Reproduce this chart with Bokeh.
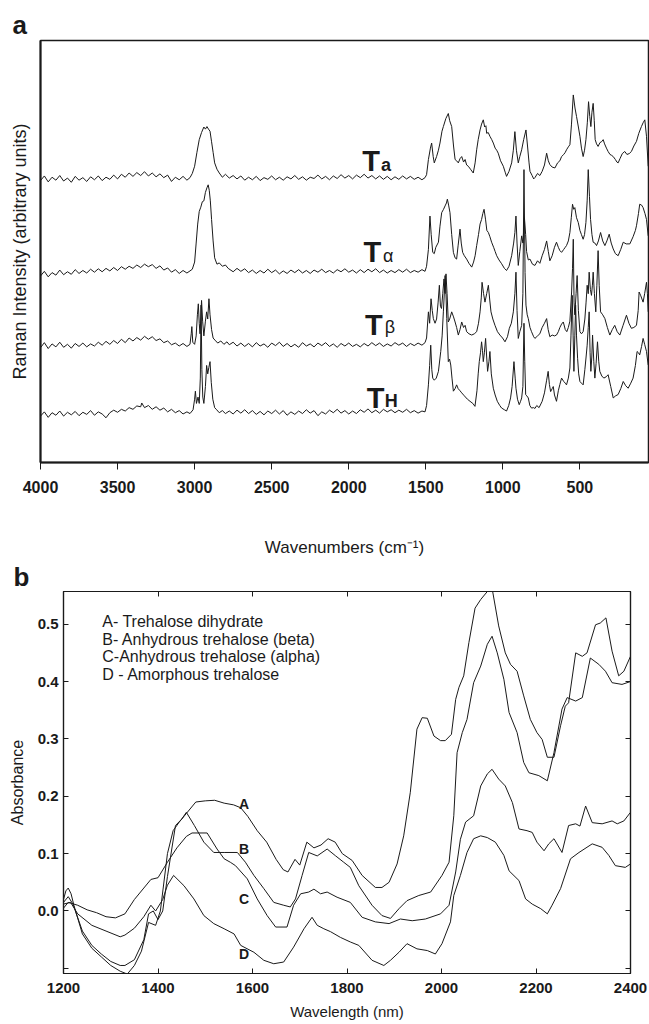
import numpy as np
from bokeh.plotting import figure
from bokeh.models import Range1d, LinearAxis, FixedTicker, CustomJSTickFormatter
from bokeh.embed import file_html
from bokeh.resources import INLINE
from bokeh.core.properties import value

FONT = "Liberation Sans"

# ---------------- Panel a : Raman spectra (wavenumber, intensity a.u.) ----------------
T_a = [(4000,66.8),(3975,67.9),(3950,66.5),(3925,67.6),(3900,66.9),(3875,68.0),(3850,66.7),(3825,67.4),(3800,66.4),(3775,67.8),
 (3750,66.9),(3725,67.5),(3700,66.6),(3675,67.7),(3650,67.0),(3625,67.9),(3600,66.8),(3575,67.6),(3550,67.1),(3525,68.1),
 (3500,67.2),(3475,68.3),(3450,67.6),(3425,68.6),(3400,67.8),(3375,68.7),(3350,68.0),(3325,68.9),(3300,67.9),(3275,68.6),
 (3250,67.7),(3225,68.4),(3200,67.5),(3175,68.1),(3150,66.6),(3125,67.6),(3100,67.0),(3075,67.8),(3050,66.9),
 (3030,67.5),(3015,68.5),(3000,70.2),(2985,73.5),(2970,76.5),(2955,78.2),(2940,79.5),(2930,79.0),(2920,79.6),(2910,79.0),
 (2900,78.5),(2890,76.0),(2880,73.5),(2870,71.0),(2855,69.5),(2840,68.6),(2820,67.6),(2800,68.3),
 (2775,67.4),(2750,68.0),(2725,67.2),(2700,67.9),(2675,66.9),(2650,67.6),(2625,67.0),(2600,67.8),(2575,66.8),(2550,67.5),
 (2525,67.1),(2500,67.9),(2475,67.0),(2450,67.6),(2425,66.9),(2400,67.7),(2375,67.2),(2350,68.0),(2325,67.1),(2300,67.7),
 (2275,66.9),(2250,67.6),(2225,67.3),(2200,68.1),(2175,67.2),(2150,67.8),(2125,67.0),(2100,67.9),(2075,67.3),(2050,68.2),
 (2025,67.4),(2000,68.0),(1975,67.2),(1950,68.1),(1925,67.5),(1900,68.3),(1875,67.4),(1850,68.0),(1825,67.2),(1800,67.9),
 (1775,67.1),(1750,67.8),(1725,67.0),(1700,67.7),(1675,67.1),(1650,67.9),(1625,67.2),(1600,67.8),(1575,67.1),(1550,67.6),
 (1525,67.0),(1505,67.5),(1495,68.2),(1483,71.8),(1470,74.5),(1462,75.7),(1452,72.5),(1445,71.0),(1430,72.5),(1418,74.0),
 (1408,75.7),(1395,78.5),(1386,79.6),(1370,81.5),(1354,82.7),(1345,81.0),(1332,79.6),(1320,75.0),(1310,71.8),(1300,71.5),
 (1289,71.0),(1278,72.0),(1267,72.5),(1255,71.2),(1245,71.8),(1235,70.5),(1224,70.2),(1210,69.5),(1192,68.6),(1180,71.0),
 (1170,74.1),(1160,76.5),(1148,78.8),(1138,80.2),(1127,81.2),(1118,79.5),(1110,79.8),(1105,78.0),(1095,78.2),(1084,77.3),
 (1072,76.5),(1062,75.7),(1050,74.5),(1040,74.0),(1030,73.3),(1015,71.5),(997,70.2),(985,68.8),(976,67.8),(960,69.0),
 (943,71.0),(932,74.0),(922,78.4),(912,74.0),(900,71.0),(890,72.5),(878,74.1),(865,76.5),(850,78.8),(840,75.0),
 (830,71.0),(824,69.0),(810,68.0),(800,67.2),(792,67.5),(775,68.5),(760,68.0),(745,69.0),(730,70.5),(716,73.3),
 (705,71.5),(695,70.6),(680,70.0),(662,69.8),(645,71.0),(630,71.5),(619,72.5),(605,73.0),(595,73.5),(587,74.1),
 (575,74.8),(565,75.3),(555,80.0),(543,87.1),(532,84.0),(522,82.0),(510,79.5),(500,77.3),(490,74.5),(479,72.5),
 (470,74.0),(461,76.5),(452,80.5),(444,85.5),(436,82.0),(429,79.6),(422,83.0),(414,85.1),(407,81.0),(401,76.5),
 (392,75.5),(382,74.9),(370,75.8),(360,76.0),(349,76.5),(340,75.5),(328,74.5),(317,73.7),(305,73.0),(295,72.8),
 (284,72.5),(270,71.8),(260,71.2),(252,71.0),(240,72.0),(225,73.2),(209,73.7),(195,73.0),(180,73.2),(166,73.7),
 (150,75.0),(133,76.1),(118,78.0),(101,79.6),(90,80.5),(79,81.2),(68,77.3),(57,70.2)]

T_alpha = [(4000,44.2),(3975,45.3),(3950,44.0),(3925,45.0),(3900,44.4),(3875,45.6),(3850,44.5),(3825,45.2),(3800,44.6),(3775,45.7),
 (3750,44.8),(3725,45.5),(3700,44.9),(3675,45.8),(3650,45.1),(3625,45.9),(3600,45.2),(3575,46.0),(3550,45.4),(3525,46.2),
 (3500,45.5),(3475,46.4),(3450,45.8),(3425,46.5),(3400,46.0),(3375,46.8),(3350,46.2),(3325,47.0),(3300,46.4),(3275,46.9),
 (3250,46.0),(3225,46.6),(3200,45.6),(3175,46.1),(3150,45.1),(3125,45.7),(3100,44.8),(3075,45.5),(3050,44.9),
 (3030,45.4),(3015,45.8),(3000,47.5),(2990,52.0),(2980,56.5),(2970,59.5),(2960,60.5),(2950,61.8),(2940,62.0),(2930,64.0),
 (2920,65.1),(2912,65.8),(2905,64.5),(2898,62.0),(2890,57.6),(2880,52.5),(2870,48.5),(2855,47.0),(2840,47.3),(2820,46.5),
 (2800,46.8),(2782,46.0),(2750,45.2),(2725,46.0),(2700,45.3),(2675,45.9),(2650,45.0),(2625,45.6),(2600,44.8),(2575,45.5),
 (2550,44.9),(2525,45.8),(2500,45.0),(2475,45.6),(2450,44.7),(2425,45.4),(2400,44.8),(2375,45.6),(2350,45.0),(2325,45.7),
 (2300,44.9),(2275,45.5),(2250,44.8),(2225,45.6),(2200,45.1),(2175,45.8),(2150,45.0),(2125,45.5),(2100,44.9),(2075,45.7),
 (2050,45.2),(2025,45.9),(2000,45.1),(1975,45.6),(1950,44.9),(1925,45.7),(1900,45.0),(1875,45.8),(1850,45.2),(1825,45.9),
 (1800,45.0),(1775,45.6),(1750,44.9),(1725,45.5),(1700,45.0),(1675,45.7),(1650,45.1),(1625,45.8),(1600,45.0),(1575,45.5),
 (1550,45.1),(1525,45.7),(1505,45.3),(1495,46.5),(1483,50.5),(1473,58.4),(1465,54.0),(1455,49.8),(1445,49.5),(1435,51.0),
 (1418,52.2),(1408,56.0),(1397,59.2),(1385,60.0),(1375,60.8),(1366,61.5),(1360,62.4),(1352,61.0),(1343,59.2),(1332,54.0),
 (1321,49.8),(1310,48.5),(1300,48.2),(1290,51.5),(1278,55.3),(1270,52.0),(1261,49.8),(1250,49.0),(1235,48.2),(1220,47.2),
 (1202,46.3),(1190,47.5),(1180,49.0),(1170,51.4),(1158,54.0),(1148,56.5),(1138,57.6),(1130,59.0),(1122,60.0),(1112,57.5),
 (1104,55.0),(1094,54.5),(1084,53.5),(1073,52.2),(1060,51.0),(1050,50.0),(1040,49.0),(1025,48.0),(1008,47.1),(990,46.0),
 (976,45.5),(960,46.5),(943,49.0),(930,52.0),(922,54.5),(915,58.4),(908,52.0),(900,46.7),(890,50.0),(878,53.7),
 (870,52.0),(860,58.0),(852,54.0),(846,50.0),(835,48.0),(824,48.2),(808,47.0),(792,46.7),(775,47.8),(760,47.2),
 (745,49.0),(730,50.5),(716,52.5),(705,50.0),(695,47.8),(680,49.0),(665,51.0),(652,52.2),(640,51.0),(630,50.2),
 (619,49.8),(605,50.5),(595,51.0),(587,51.4),(575,52.5),(565,54.5),(556,58.0),(548,61.2),(540,60.0),(533,60.4),
 (522,58.0),(511,56.9),(500,55.0),(490,54.0),(479,52.9),(470,54.0),(461,56.9),(453,62.0),(446,69.4),(438,63.0),
 (431,57.6),(422,54.0),(414,52.2),(403,52.0),(392,51.4),(380,52.5),(366,54.5),(352,52.5),(338,51.4),(325,52.5),
 (310,54.1),(297,52.0),(284,50.6),(270,49.5),(252,49.0),(235,50.5),(219,52.2),(200,51.8),(176,51.8),(155,53.5),
 (140,55.0),(133,56.1),(120,59.0),(112,61.2),(100,61.0),(90,60.4),(78,59.0),(68,57.6),(57,53.7)]

T_beta = [(4000,27.2),(3975,28.4),(3950,27.0),(3925,28.1),(3900,27.4),(3875,28.5),(3850,27.3),(3825,28.0),(3800,27.1),(3775,28.2),
 (3750,27.5),(3725,28.3),(3700,27.4),(3675,28.1),(3650,27.6),(3625,28.5),(3600,27.8),(3575,28.7),(3550,28.0),(3525,28.9),
 (3500,28.2),(3475,29.2),(3450,28.4),(3425,29.5),(3400,28.8),(3375,29.6),(3350,29.0),(3325,29.9),(3300,29.2),(3275,29.8),
 (3250,28.9),(3225,29.3),(3200,28.4),(3175,28.8),(3150,27.9),(3125,28.3),(3100,27.6),(3075,28.2),(3050,27.5),
 (3030,28.0),(3022,30.5),(3018,32.2),(3012,28.5),(3000,28.0),(2990,30.0),(2982,35.0),(2976,37.6),(2970,33.0),(2965,30.5),
 (2960,34.0),(2955,38.4),(2948,33.5),(2940,30.0),(2930,33.5),(2922,35.7),(2915,34.0),(2907,38.8),(2900,35.0),(2890,31.5),
 (2880,29.5),(2868,29.0),(2850,28.3),(2830,28.8),(2810,28.0),(2790,28.6),(2775,27.9),(2750,28.5),(2725,27.6),(2700,28.3),
 (2675,27.5),(2650,28.2),(2625,27.4),(2600,28.4),(2575,27.6),(2550,28.1),(2525,27.3),(2500,28.3),(2475,27.7),(2450,28.5),
 (2425,27.5),(2400,28.2),(2375,27.4),(2350,28.0),(2325,27.3),(2300,28.4),(2275,27.6),(2250,28.1),(2225,27.4),(2200,28.3),
 (2175,27.7),(2150,28.4),(2125,27.5),(2100,28.1),(2075,27.3),(2050,28.2),(2025,27.6),(2000,28.3),(1975,27.5),(1950,28.0),
 (1925,27.4),(1900,28.2),(1875,27.6),(1850,28.4),(1825,27.7),(1800,28.3),(1775,27.5),(1750,28.1),(1725,27.6),(1700,28.4),
 (1675,27.8),(1650,28.3),(1625,27.5),(1600,28.2),(1575,27.7),(1550,28.3),(1525,27.8),(1505,28.4),(1495,29.5),(1483,35.7),
 (1475,33.0),(1466,38.8),(1458,36.0),(1451,34.1),(1440,33.0),(1430,34.0),(1420,38.0),(1412,42.0),(1405,37.0),(1398,36.5),
 (1390,40.0),(1382,43.5),(1375,40.0),(1369,44.7),(1362,40.0),(1354,33.3),(1345,34.0),(1332,35.7),(1320,34.5),(1310,33.3),
 (1300,32.0),(1289,30.2),(1278,31.5),(1267,33.3),(1255,32.0),(1245,32.5),(1235,31.0),(1220,30.5),(1202,30.2),(1185,30.5),
 (1170,31.0),(1158,33.0),(1148,35.7),(1140,39.0),(1135,42.7),(1125,40.0),(1116,38.0),(1105,40.0),(1094,42.0),(1085,38.5),
 (1077,35.7),(1065,34.0),(1051,32.5),(1035,31.0),(1019,30.2),(1002,29.5),(986,28.6),(970,29.8),(958,31.8),(945,33.0),
 (932,35.7),(922,40.0),(915,45.1),(908,36.0),(900,29.4),(890,31.0),(878,32.5),(870,40.0),(863,69.4),(856,45.0),
 (850,37.3),(842,35.0),(835,34.1),(824,32.0),(814,31.0),(800,29.8),(792,29.4),(775,30.0),(760,30.5),(745,32.0),
 (730,33.0),(716,34.1),(706,31.5),(695,29.8),(680,30.2),(665,30.0),(652,30.2),(640,31.0),(630,32.0),(619,32.8),
 (608,33.3),(595,31.5),(585,31.0),(575,32.0),(565,33.5),(554,40.4),(548,46.0),(543,52.9),(538,38.0),(533,35.0),
 (525,40.0),(518,44.3),(510,36.0),(500,31.0),(490,30.5),(479,31.0),(468,34.0),(460,38.0),(453,42.0),(446,40.0),
 (440,45.1),(432,41.0),(425,39.6),(419,42.0),(414,45.1),(406,40.0),(397,35.7),(390,42.0),(382,50.2),(375,42.0),
 (366,35.7),(352,35.0),(338,34.1),(322,32.0),(306,30.2),(290,31.5),(274,32.5),(258,31.0),(241,30.2),(220,32.5),
 (198,34.9),(182,33.0),(166,31.8),(150,32.0),(133,32.5),(122,36.0),(116,40.4),(105,39.5),(90,38.0),(80,40.0),
 (68,42.7),(62,40.0),(57,35.7)]

T_H = [(4000,11.0),(3975,12.0),(3950,10.7),(3925,11.8),(3900,11.2),(3875,12.2),(3850,11.0),(3825,11.9),(3800,11.3),(3775,12.1),
 (3750,11.1),(3725,11.9),(3700,11.4),(3675,12.3),(3650,11.2),(3625,12.0),(3600,11.5),(3575,10.6),(3550,11.8),(3525,12.4),
 (3500,11.9),(3475,12.6),(3450,12.2),(3425,13.0),(3400,12.6),(3375,13.4),(3350,13.2),(3343,14.1),(3325,13.0),(3300,13.5),
 (3275,12.6),(3250,13.2),(3225,12.4),(3200,12.9),(3175,12.0),(3150,12.6),(3125,11.8),(3100,12.3),(3075,11.5),(3050,12.0),
 (3030,11.6),(3010,12.5),(3000,15.0),(2995,16.9),(2988,14.0),(2978,15.5),(2970,14.0),(2963,20.0),(2958,37.3),(2953,22.0),
 (2947,15.5),(2940,14.0),(2930,18.0),(2922,23.0),(2915,21.0),(2908,22.5),(2900,23.9),(2892,19.0),(2882,15.0),(2870,13.0),
 (2857,12.5),(2840,11.8),(2820,12.3),(2800,11.6),(2775,12.2),(2750,11.5),(2725,12.4),(2700,11.7),(2675,12.5),(2650,11.6),
 (2625,12.3),(2600,11.4),(2575,12.1),(2550,11.3),(2525,12.2),(2500,11.6),(2475,12.4),(2450,11.5),(2425,12.3),(2400,11.2),
 (2375,12.0),(2350,11.4),(2325,12.2),(2300,11.6),(2275,12.5),(2250,11.7),(2225,12.3),(2200,11.1),(2175,12.0),(2150,11.5),
 (2125,12.4),(2100,11.8),(2075,12.6),(2050,11.7),(2025,12.3),(2000,11.5),(1975,12.2),(1950,11.6),(1925,12.5),(1900,11.9),
 (1875,12.7),(1850,11.8),(1825,12.4),(1800,11.7),(1775,12.6),(1750,12.0),(1725,12.5),(1700,11.8),(1675,12.4),(1650,11.9),
 (1625,12.6),(1600,11.8),(1575,12.3),(1550,11.7),(1525,12.2),(1505,12.0),(1495,13.5),(1483,18.4),(1475,23.0),(1468,27.8),
 (1461,22.0),(1455,20.0),(1445,19.5),(1432,20.0),(1418,21.6),(1403,26.3),(1394,30.0),(1386,35.7),(1380,40.0),(1375,44.3),
 (1369,40.0),(1364,34.1),(1354,23.9),(1346,24.5),(1338,23.1),(1330,20.0),(1321,16.9),(1310,17.5),(1300,18.4),(1290,17.5),
 (1278,17.0),(1267,16.5),(1250,15.8),(1230,15.0),(1213,14.5),(1195,14.0),(1181,13.3),(1168,17.0),(1160,21.0),(1153,23.9),
 (1145,26.0),(1138,28.6),(1132,26.5),(1127,23.9),(1120,26.0),(1112,29.4),(1105,25.0),(1099,21.6),(1090,24.0),(1084,26.3),
 (1075,21.0),(1062,17.6),(1050,16.0),(1036,14.5),(1020,13.5),(1008,12.9),(990,12.5),(976,12.2),(962,13.5),(950,15.3),
 (940,18.0),(928,23.9),(920,20.0),(915,17.6),(905,15.0),(894,13.7),(885,14.5),(878,15.3),(870,18.0),(863,33.0),
 (858,24.0),(852,16.1),(845,15.8),(835,15.3),(825,13.5),(814,12.9),(800,13.0),(792,12.8),(780,13.5),(765,13.0),
 (745,14.5),(730,16.5),(716,19.5),(706,21.6),(698,18.5),(690,16.8),(680,17.5),(673,18.0),(665,16.0),(652,14.5),
 (640,17.0),(630,18.5),(619,20.0),(605,19.2),(595,18.8),(587,18.4),(575,20.0),(565,22.4),(558,30.0),(550,39.6),
 (544,30.0),(539,21.6),(533,30.0),(528,37.3),(522,30.0),(515,24.7),(508,21.0),(500,19.2),(490,18.8),(479,18.4),
 (468,22.0),(460,25.0),(453,27.8),(446,32.0),(440,35.7),(434,26.0),(429,21.6),(423,25.0),(418,30.2),(410,24.0),
 (403,20.0),(395,23.5),(386,28.6),(378,24.0),(371,21.6),(358,20.5),(345,20.0),(330,20.3),(317,20.8),(300,18.0),
 (284,15.3),(268,15.8),(252,16.1),(235,17.5),(219,19.2),(203,18.2),(187,17.6),(170,18.8),(155,20.0),(140,23.0),
 (129,26.3),(120,26.0),(112,25.5),(100,27.5),(90,29.4),(80,28.0),(68,26.3),(57,23.1)]

RAMAN_TICKS = [4000, 3500, 3000, 2500, 2000, 1500, 1000, 500]
T_MAIN_POS = {"x": [1913, 1905, 1894, 1883], "y": [71.4, 49.8, 32.6, 15.3]}
SUB_BOLD = {"x": [1790, 1766], "y": [70.6, 14.5], "t": ["a", "H"]}
SUB_GREEK = {"x": [1777, 1766], "y": [49.0, 32.2], "t": ["\u03b1", "\u03b2"]}

# ---------------- Panel b : NIR absorbance ----------------
wl_A = [1200,1205,1210,1216,1222,1240,1260,1280,1300,1320,1335,1350,1365,1380,1395,1405,1420,1432,1445,1460,1480,1500,1520,1540,
        1560,1575,1590,1610,1630,1650,1665,1675,1690,1700,1715,1730,1745,1760,1775,1790,1811,1832,1860,1874,1889,1906,1920,1934,
        1948,1959,1970,1984,1998,2008,2021,2030,2037,2047,2058,2071,2083,2097,2107,2121,2135,2146,2160,2174,2188,2202,2213,2224,
        2238,2252,2262,2269,2284,2298,2308,2326,2336,2348,2361,2375,2386,2400]
abs_A = [0.02,0.035,0.04,0.03,0.01,-0.04,-0.065,-0.08,-0.095,-0.105,-0.11,-0.095,-0.07,-0.02,-0.025,0.0,0.1,0.14,0.155,0.17,0.19,
         0.192,0.193,0.188,0.185,0.18,0.165,0.14,0.12,0.09,0.072,0.068,0.09,0.08,0.12,0.11,0.115,0.126,0.12,0.1,0.088,0.062,0.041,
         0.041,0.05,0.082,0.131,0.207,0.317,0.337,0.336,0.305,0.297,0.297,0.308,0.369,0.39,0.41,0.468,0.528,0.543,0.557,0.563,0.497,
         0.45,0.43,0.418,0.375,0.334,0.311,0.299,0.268,0.268,0.323,0.357,0.363,0.45,0.444,0.45,0.499,0.502,0.511,0.453,0.41,0.418,0.444]
wl_B = [1200,1210,1220,1240,1260,1280,1300,1320,1330,1350,1370,1380,1390,1400,1410,1420,1437,1450,1460,1477,1497,1518,1540,1568,
        1585,1603,1624,1645,1666,1680,1691,1705,1719,1737,1758,1776,1793,1807,1825,1853,1874,1892,1910,1927,1952,1977,2001,2016,
        2026,2033,2044,2054,2068,2083,2097,2107,2118,2132,2143,2160,2174,2185,2206,2224,2238,2255,2266,2284,2298,2315,2333,2347,
        2361,2382,2400]
abs_B = [0.015,0.025,0.012,-0.035,-0.06,-0.075,-0.088,-0.095,-0.095,-0.085,-0.05,-0.005,0.0,-0.015,0.0,0.06,0.149,0.16,0.172,0.149,
         0.12,0.102,0.102,0.102,0.085,0.062,0.039,0.015,0.01,0.007,0.021,0.062,0.102,0.096,0.108,0.096,0.085,0.076,0.044,0.01,-0.008,
         -0.013,0.004,0.018,0.027,0.033,0.062,0.085,0.166,0.276,0.311,0.334,0.398,0.427,0.465,0.479,0.45,0.404,0.346,0.311,0.259,0.241,
         0.236,0.227,0.276,0.352,0.372,0.366,0.372,0.441,0.43,0.418,0.398,0.395,0.4]
wl_C = [1200,1210,1230,1250,1270,1290,1310,1330,1350,1370,1385,1400,1420,1440,1460,1472,1504,1525,1540,1553,1564,1589,1610,1631,
        1649,1673,1687,1702,1719,1730,1744,1758,1779,1807,1832,1860,1889,1913,1938,1966,1998,2016,2030,2040,2051,2068,2083,2097,
        2107,2121,2135,2150,2164,2181,2192,2202,2217,2227,2238,2255,2269,2284,2293,2305,2319,2340,2361,2372,2386,2400]
abs_C = [0.005,0.015,0.01,0.002,-0.003,-0.01,-0.012,-0.005,0.02,0.04,0.055,0.058,0.085,0.11,0.13,0.136,0.136,0.108,0.091,0.085,0.079,
         0.056,0.021,-0.008,-0.028,-0.028,0.01,0.03,0.033,0.038,0.03,0.033,0.024,0.015,-0.011,-0.019,-0.022,-0.014,-0.017,-0.014,
         -0.005,0.01,0.068,0.125,0.155,0.166,0.218,0.239,0.247,0.23,0.218,0.189,0.143,0.14,0.137,0.12,0.105,0.117,0.126,0.102,0.149,
         0.152,0.148,0.183,0.154,0.152,0.157,0.152,0.157,0.172]
wl_D = [1200,1215,1230,1260,1290,1320,1330,1350,1370,1385,1395,1410,1420,1433,1455,1476,1497,1518,1540,1561,1575,1603,1624,1645,
        1666,1687,1709,1726,1737,1751,1765,1786,1807,1825,1853,1878,1892,1910,1927,1948,1970,1987,2001,2019,2026,2040,2054,2068,
        2083,2097,2114,2132,2143,2164,2178,2192,2210,2224,2234,2252,2273,2291,2319,2340,2354,2368,2389,2400]
abs_D = [0.012,0.015,-0.005,-0.025,-0.035,-0.045,-0.042,-0.03,-0.01,0.01,0.0,0.02,0.045,0.062,0.044,0.021,-0.008,-0.022,-0.031,-0.04,
         -0.06,-0.072,-0.086,-0.092,-0.089,-0.063,-0.031,-0.011,-0.025,-0.031,-0.036,-0.046,-0.054,-0.06,-0.086,-0.095,-0.086,-0.072,
         -0.057,-0.066,-0.069,-0.075,-0.057,-0.019,0.027,0.062,0.102,0.126,0.131,0.128,0.12,0.097,0.07,0.053,0.021,0.012,0.004,-0.005,
         0.01,0.039,0.091,0.102,0.117,0.111,0.097,0.079,0.076,0.082]

NIR_XTICKS = [1200, 1400, 1600, 1800, 2000, 2200, 2400]
NIR_YTICKS = [-0.1, 0.0, 0.1, 0.2, 0.3, 0.4, 0.5]
LEGEND_LINES = ["A- Trehalose dihydrate", "B- Anhydrous trehalose (beta)",
                "C-Anhydrous trehalose (alpha)", "D - Amorphous trehalose"]
LEGEND_POS = {"x": [1282] * 4, "y": [0.505, 0.474, 0.443, 0.413]}
CURVE_TAGS = {"x": [1582, 1582, 1582, 1582], "y": [0.186, 0.108, 0.021, -0.0745], "t": ["A", "B", "C", "D"]}

INK = "#1a1a1a"

def hide_labels(ax):
    ax.major_label_text_font_size = "0px"
    ax.major_label_text_color = None
    ax.major_label_standoff = 0

# ================= figure a =================
p1 = figure(width=649, height=559, x_range=Range1d(4000, 55), y_range=Range1d(0, 100),
            output_backend="svg", toolbar_location=None,
            min_border_left=40, min_border_right=1, min_border_top=40, min_border_bottom=94)
p1.grid.visible = False
p1.outline_line_color = INK
p1.outline_line_width = 1.5
p1.border_fill_color = "white"

for tr in (T_a, T_alpha, T_beta, T_H):
    wn = [w for w, _ in tr]
    it = [v for _, v in tr]
    p1.line(wn, it, line_color=INK, line_width=1)

p1.text(x=T_MAIN_POS["x"], y=T_MAIN_POS["y"], text=["T"] * 4, text_font=value(FONT),
        text_font_style="bold", text_font_size="29px", text_baseline="alphabetic",
        text_align="left", text_color=INK)
p1.text(x=SUB_BOLD["x"], y=SUB_BOLD["y"], text=SUB_BOLD["t"], text_font=value(FONT),
        text_font_style="bold", text_font_size="18px", text_baseline="alphabetic",
        text_align="left", text_color=INK)
p1.text(x=SUB_GREEK["x"], y=SUB_GREEK["y"], text=SUB_GREEK["t"], text_font=value(FONT),
        text_font_style="normal", text_font_size="18px", text_baseline="alphabetic",
        text_align="left", text_color=INK)

xa = p1.xaxis[0]
xa.ticker = FixedTicker(ticks=RAMAN_TICKS)
xa.minor_tick_line_color = None
xa.major_tick_in = 0
xa.major_tick_out = 7
xa.major_tick_line_color = INK
xa.axis_line_color = INK
xa.axis_line_width = 2
xa.major_label_text_font = FONT
xa.major_label_text_font_style = "bold"
xa.major_label_text_font_size = "16px"
xa.major_label_text_color = INK
xa.major_label_standoff = 11
xa.axis_label = "Wavenumbers (cm\u207b\u00b9)"
xa.axis_label_text_font = FONT
xa.axis_label_text_font_style = "normal"
xa.axis_label_text_font_size = "17px"
xa.axis_label_text_color = INK
xa.axis_label_standoff = 42

ya = p1.yaxis[0]
ya.ticker = FixedTicker(ticks=[])
ya.major_tick_line_color = None
ya.minor_tick_line_color = None
hide_labels(ya)
ya.axis_line_color = INK
ya.axis_line_width = 2
ya.axis_label = "Raman Intensity (arbitrary units)"
ya.axis_label_text_font = FONT
ya.axis_label_text_font_style = "normal"
ya.axis_label_text_font_size = "18px"
ya.axis_label_text_color = INK
ya.axis_label_standoff = 11

p1.title.text = "a"
p1.title.align = "left"
p1.title.offset = -28
p1.title.standoff = 2
p1.title.text_font = FONT
p1.title.text_font_style = "bold"
p1.title.text_font_size = "26px"
p1.title.text_color = INK

# ================= figure b =================
p2 = figure(width=649, height=465, x_range=Range1d(1200, 2400), y_range=Range1d(-0.109, 0.557),
            output_backend="svg", toolbar_location=None,
            min_border_left=63, min_border_right=19, min_border_top=31, min_border_bottom=51)
p2.grid.visible = False
p2.outline_line_color = INK
p2.outline_line_width = 1.2
p2.border_fill_color = "white"

for wl, ab in ((wl_A, abs_A), (wl_B, abs_B), (wl_C, abs_C), (wl_D, abs_D)):
    p2.line(wl, ab, line_color=INK, line_width=1)

p2.text(x=LEGEND_POS["x"], y=LEGEND_POS["y"], text=LEGEND_LINES, text_font=value(FONT),
        text_font_size="16px", text_baseline="middle", text_align="left", text_color=INK)
p2.text(x=CURVE_TAGS["x"], y=CURVE_TAGS["y"], text=CURVE_TAGS["t"], text_font=value(FONT),
        text_font_style="bold", text_font_size="14px", text_baseline="middle", text_align="center",
        text_color=INK)

def style_inner(ax):
    ax.minor_tick_line_color = None
    ax.major_tick_in = 5
    ax.major_tick_out = 0
    ax.major_tick_line_color = INK
    ax.axis_line_color = INK
    ax.axis_line_width = 1.2

xb = p2.xaxis[0]
xb.ticker = FixedTicker(ticks=NIR_XTICKS)
style_inner(xb)
xb.major_label_text_font = FONT
xb.major_label_text_font_style = "bold"
xb.major_label_text_font_size = "15px"
xb.major_label_text_color = INK
xb.major_label_standoff = 9
xb.axis_label = "Wavelength (nm)"
xb.axis_label_text_font = FONT
xb.axis_label_text_font_style = "normal"
xb.axis_label_text_font_size = "15px"
xb.axis_label_text_color = INK
xb.axis_label_standoff = 7

yb = p2.yaxis[0]
yb.ticker = FixedTicker(ticks=NIR_YTICKS)
style_inner(yb)
yb.formatter = CustomJSTickFormatter(code="return tick < -0.05 ? '' : tick.toFixed(1);")
yb.major_label_text_font = FONT
yb.major_label_text_font_style = "bold"
yb.major_label_text_font_size = "15px"
yb.major_label_text_color = INK
yb.major_label_standoff = 5
yb.axis_label = "Absorbance"
yb.axis_label_text_font = FONT
yb.axis_label_text_font_style = "normal"
yb.axis_label_text_font_size = "16px"
yb.axis_label_text_color = INK
yb.axis_label_standoff = 9

for loc, ticks in (("right", NIR_YTICKS), ("above", NIR_XTICKS)):
    ax = LinearAxis(ticker=FixedTicker(ticks=ticks))
    hide_labels(ax)
    style_inner(ax)
    p2.add_layout(ax, loc)

p2.title.text = "b"
p2.title.align = "left"
p2.title.offset = -50
p2.title.standoff = 0
p2.title.text_font = FONT
p2.title.text_font_style = "bold"
p2.title.text_font_size = "26px"
p2.title.text_color = INK

open("out.html", "w").write(file_html([p1, p2], INLINE))
